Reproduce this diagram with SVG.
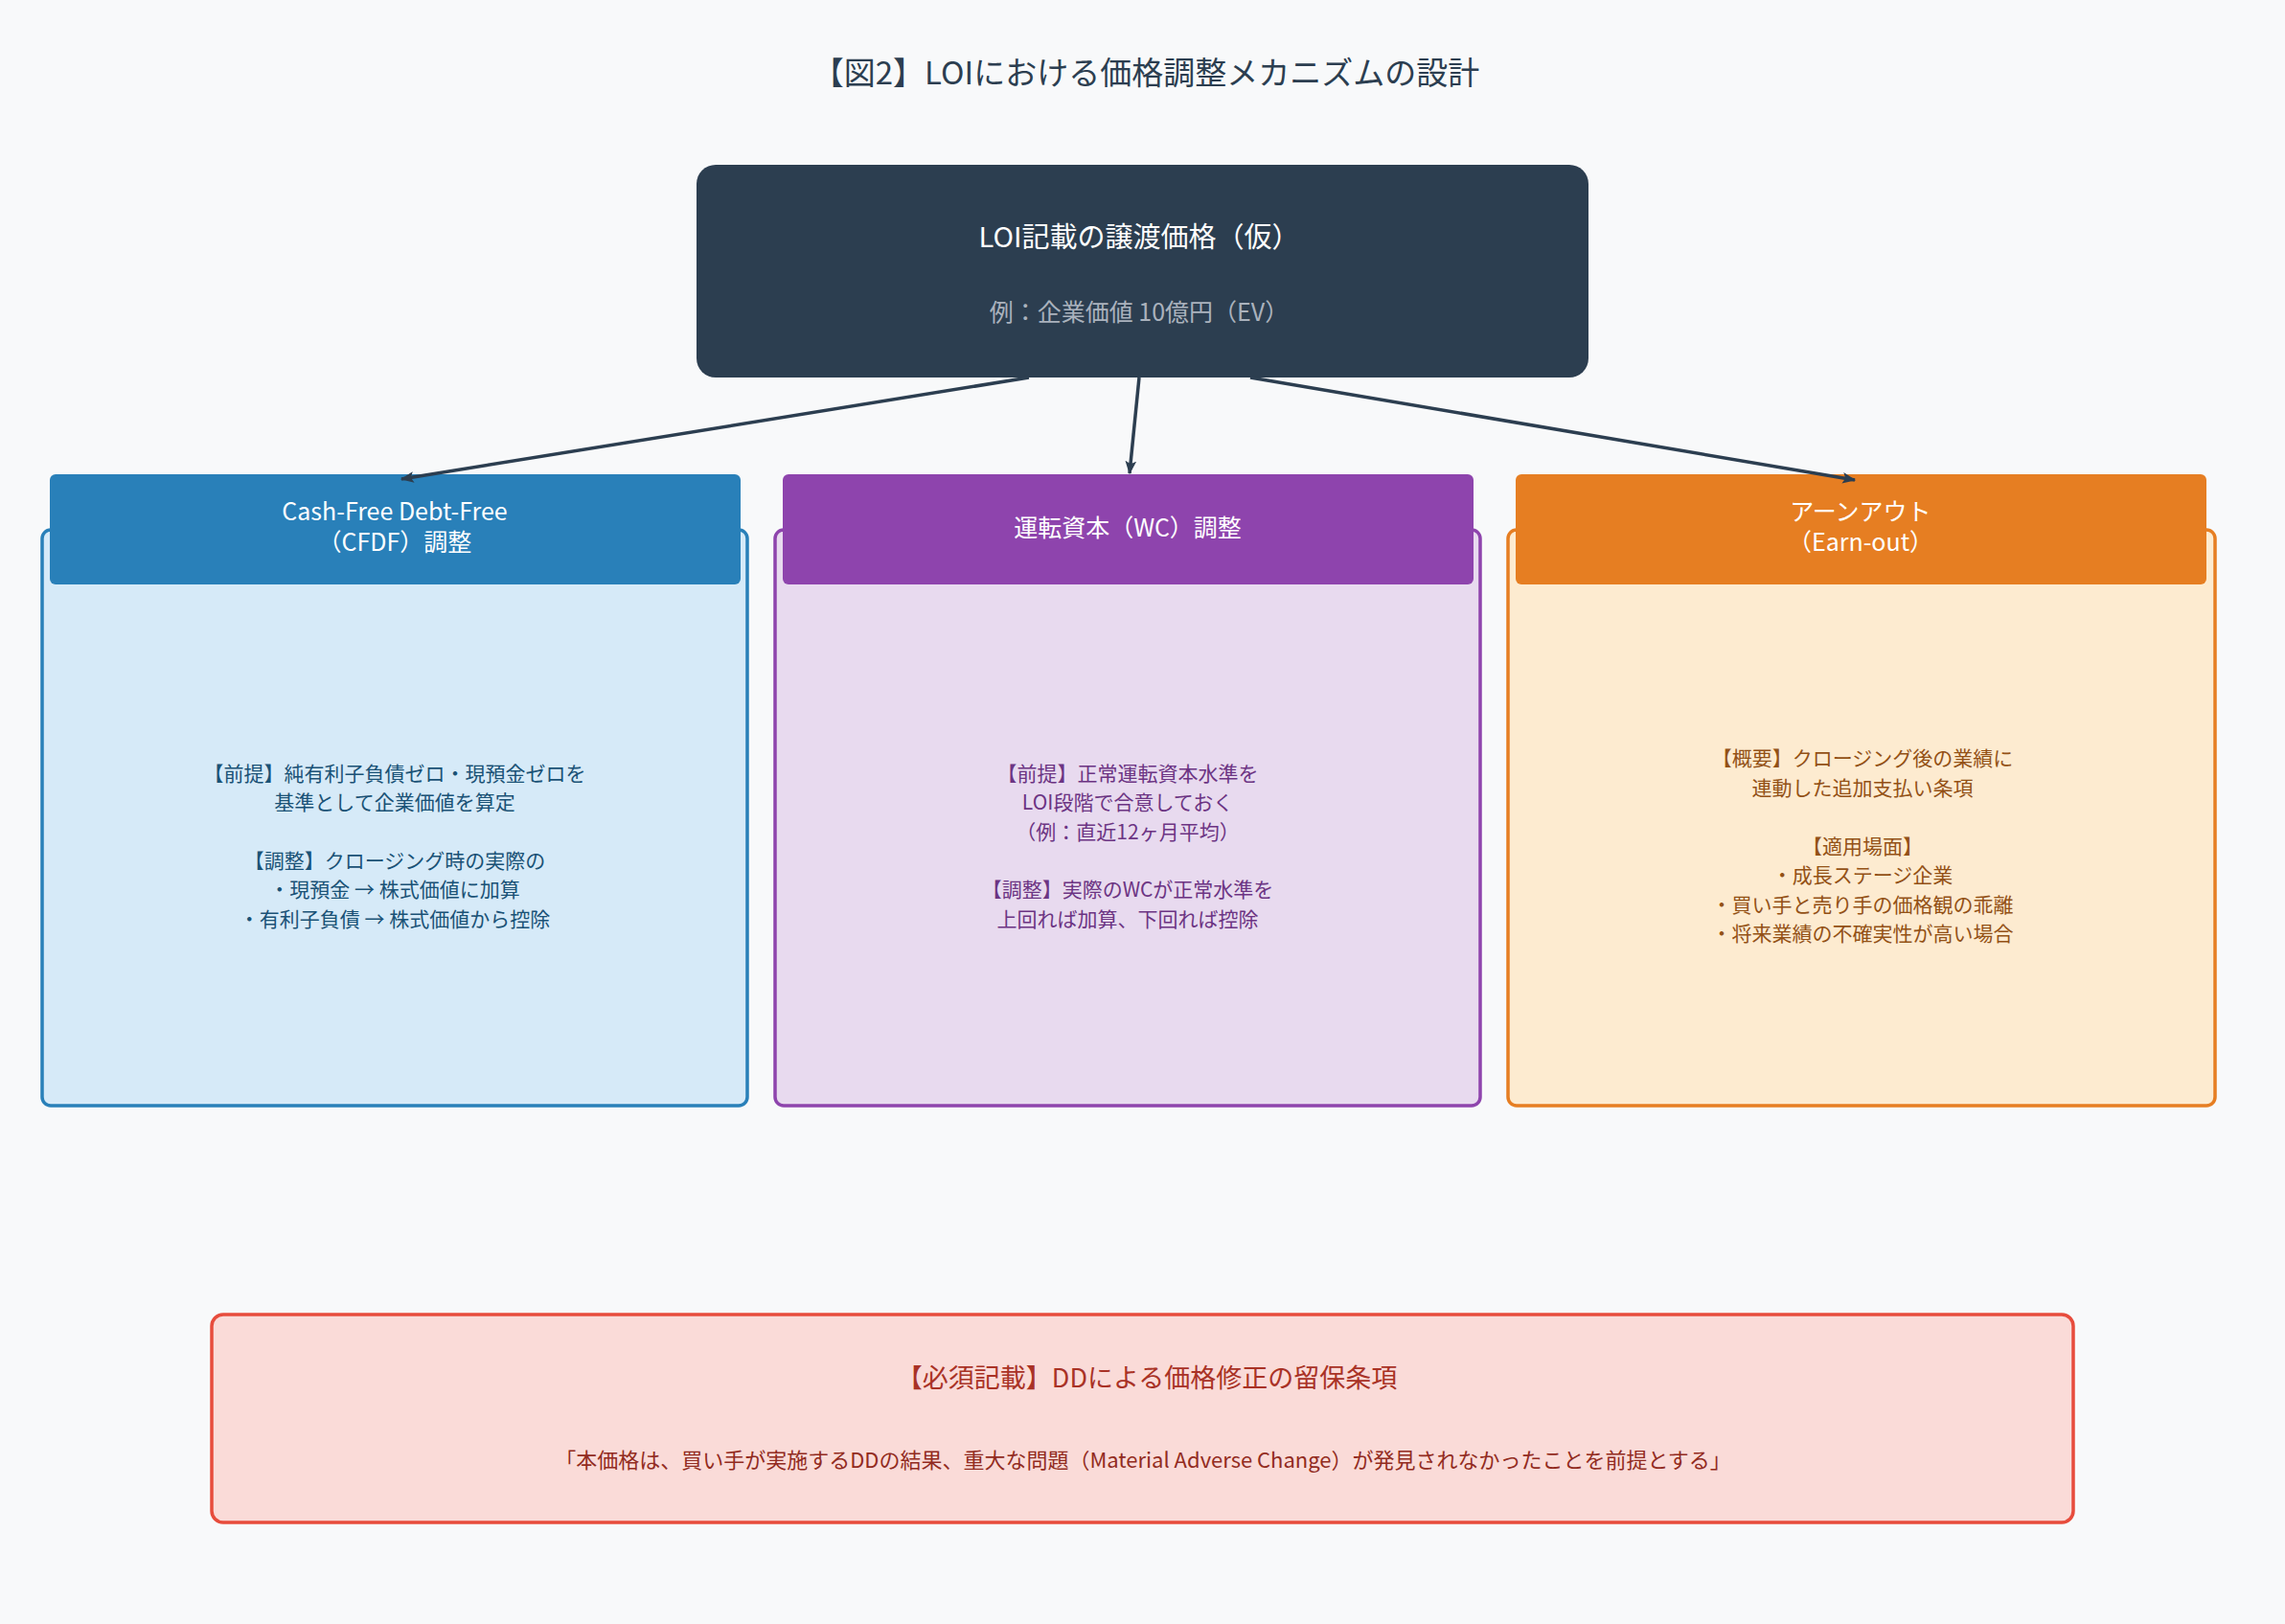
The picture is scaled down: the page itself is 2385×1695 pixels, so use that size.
<svg xmlns="http://www.w3.org/2000/svg" width="2385" height="1695" viewBox="0 0 2385 1695">
<defs>
<style>
text{font-family:"Noto Sans CJK JP","Noto Sans",sans-serif;text-anchor:middle;}
.title{font-size:33px;fill:#2c3e50;}
.hd{font-size:25px;fill:#ffffff;}
.body{font-size:21px;}
.conn{stroke:#2c3e50;stroke-width:3.5;fill:none;marker-end:url(#arr);}
</style>
<marker id="arr" viewBox="0 0 12 10" refX="11" refY="5" markerWidth="14" markerHeight="12" markerUnits="userSpaceOnUse" orient="auto">
<path d="M0,0 L12,5 L0,10 L2.5,5 z" fill="#2c3e50"/>
</marker>
</defs>
<rect width="2385" height="1695" fill="#f8f9fa"/>
<text class="title" x="1196" y="88">【図2】LOIにおける価格調整メカニズムの設計</text>

<g id="node-loi">
<rect x="727" y="172" width="931" height="222" rx="20" fill="#2c3e50"/>
<text x="1189" y="258" style="font-size:29px;fill:#ffffff">LOI記載の譲渡価格（仮）</text>
<text x="1189" y="335" style="font-size:25px;fill:#aab2bd">例：企業価値 10億円（EV）</text>
</g>

<g id="node-cfdf">
<rect x="44" y="553" width="736" height="601" rx="9" fill="#d6eaf8" stroke="#2980b9" stroke-width="3.5"/>
<rect x="52" y="495" width="721" height="115" rx="6" fill="#2980b9"/>
<text class="hd" x="412" y="543">Cash-Free Debt-Free</text>
<text class="hd" x="412" y="575">（CFDF）調整</text>
<g class="body" fill="#1a5276">
<text x="412" y="815">【前提】純有利子負債ゼロ・現預金ゼロを</text>
<text x="412" y="845">基準として企業価値を算定</text>
<text x="412" y="906">【調整】クロージング時の実際の</text>
<text x="412" y="936">・現預金 → 株式価値に加算</text>
<text x="412" y="967">・有利子負債 → 株式価値から控除</text>
</g>
</g>

<g id="node-wc">
<rect x="809" y="553" width="736" height="601" rx="9" fill="#e8daef" stroke="#8e44ad" stroke-width="3.5"/>
<rect x="817" y="495" width="721" height="115" rx="6" fill="#8e44ad"/>
<text class="hd" x="1177" y="560">運転資本（WC）調整</text>
<g class="body" fill="#6c3483">
<text x="1177" y="815">【前提】正常運転資本水準を</text>
<text x="1177" y="845">LOI段階で合意しておく</text>
<text x="1177" y="876">（例：直近12ヶ月平均）</text>
<text x="1177" y="936">【調整】実際のWCが正常水準を</text>
<text x="1177" y="967">上回れば加算、下回れば控除</text>
</g>
</g>

<g id="node-earnout">
<rect x="1574" y="553" width="738" height="601" rx="9" fill="#fdebd0" stroke="#e67e22" stroke-width="3.5"/>
<rect x="1582" y="495" width="721" height="115" rx="6" fill="#e67e22"/>
<text class="hd" x="1942" y="543">アーンアウト</text>
<text class="hd" x="1942" y="575">（Earn-out）</text>
<g class="body" fill="#935116">
<text x="1944" y="799">【概要】クロージング後の業績に</text>
<text x="1944" y="830">連動した追加支払い条項</text>
<text x="1944" y="891">【適用場面】</text>
<text x="1944" y="921">・成長ステージ企業</text>
<text x="1944" y="952">・買い手と売り手の価格観の乖離</text>
<text x="1944" y="982">・将来業績の不確実性が高い場合</text>
</g>
</g>

<g id="node-dd">
<rect x="221" y="1372" width="1943" height="217" rx="12" fill="#fadbd8" stroke="#e74c3c" stroke-width="3.5"/>
<text x="1197" y="1448" style="font-size:27px;fill:#a93226">【必須記載】DDによる価格修正の留保条項</text>
<text x="1193" y="1532" style="font-size:22px;fill:#922b21">「本価格は、買い手が実施するDDの結果、重大な問題（Material Adverse Change）が発見されなかったことを前提とする」</text>
</g>

<g id="connectors">
<line class="conn" x1="1074" y1="394" x2="419" y2="500"/>
<line class="conn" x1="1189" y1="394" x2="1179" y2="494"/>
<line class="conn" x1="1305" y1="394" x2="1936" y2="501"/>
</g>
</svg>
